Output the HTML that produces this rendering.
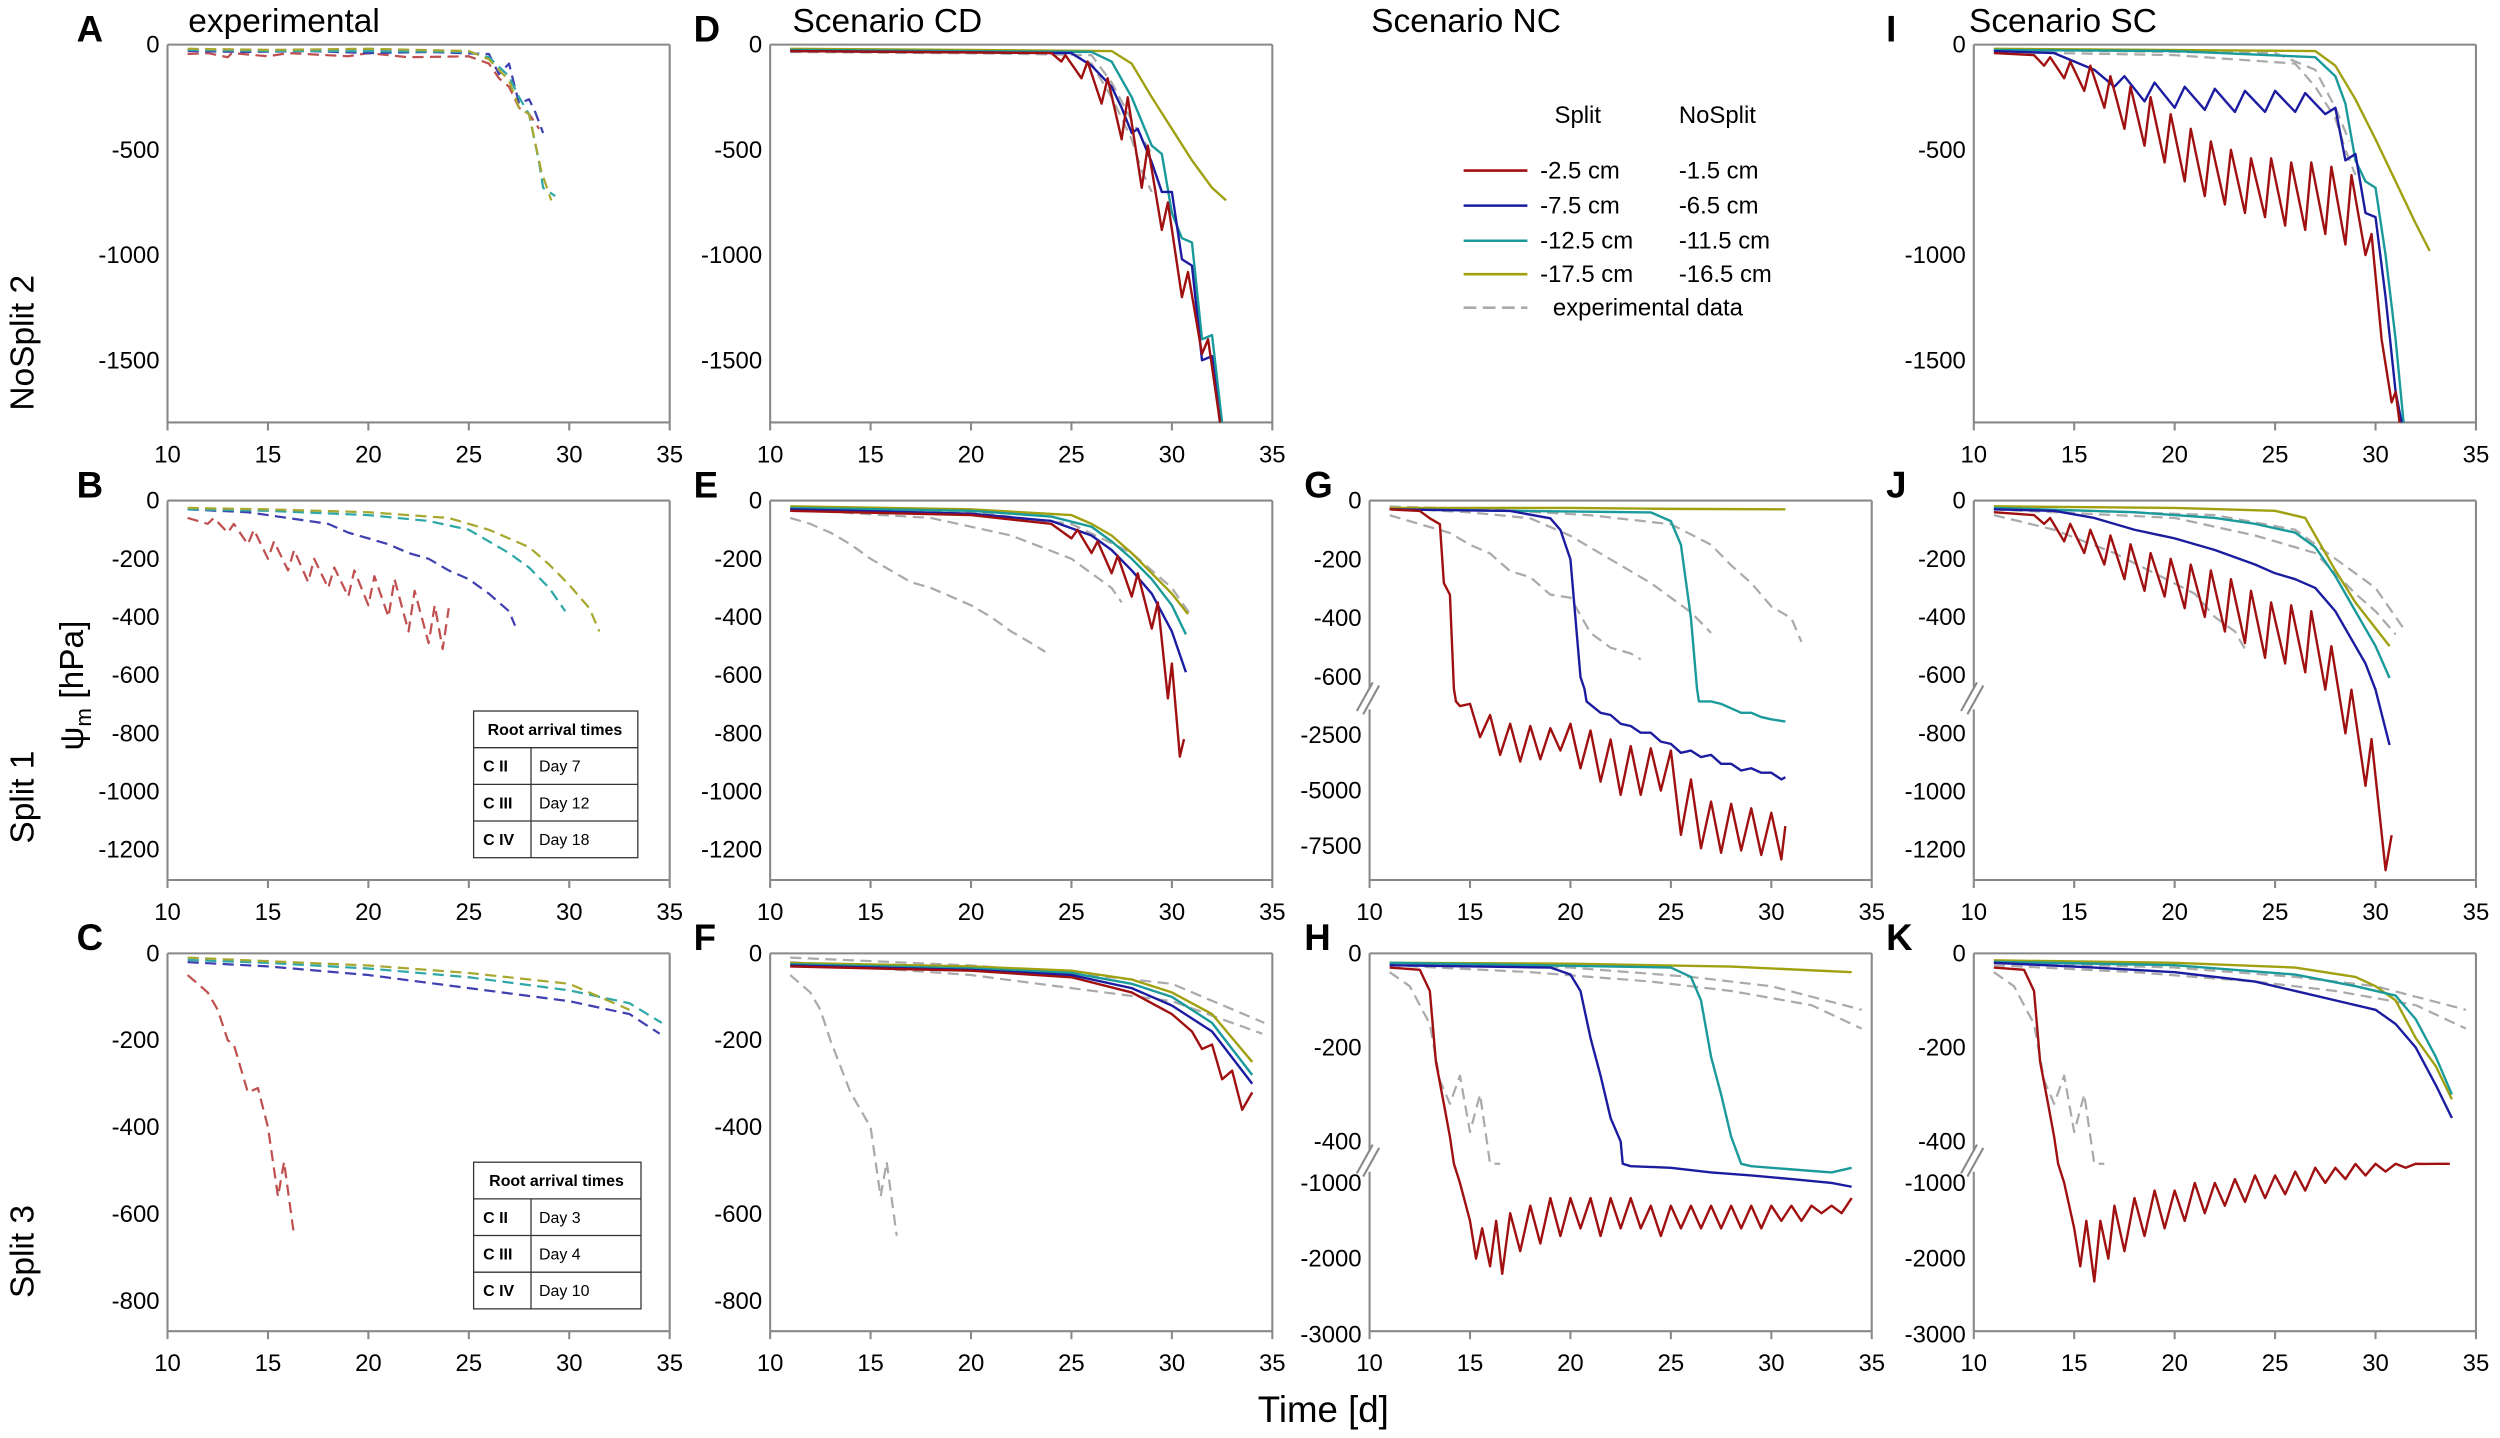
<!DOCTYPE html>
<html><head><meta charset="utf-8"><style>
html,body{margin:0;padding:0;background:#fff}
svg{display:block}
text{font-family:"Liberation Sans",Arial,sans-serif}
</style></head><body>
<svg id="fig" width="2500" height="1438" viewBox="0 0 1568 902" xmlns="http://www.w3.org/2000/svg">
<g id="static">
<text x="48" y="26" font-size="23" font-weight="bold">A</text>
<text x="118" y="20" font-size="21">experimental</text>
<text x="435" y="26" font-size="23" font-weight="bold">D</text>
<text x="497" y="20" font-size="21">Scenario CD</text>
<text x="860" y="20" font-size="21">Scenario NC</text>
<text x="1183" y="26" font-size="23" font-weight="bold">I</text>
<text x="1235" y="20" font-size="21">Scenario SC</text>
<text x="48" y="312" font-size="23" font-weight="bold">B</text>
<text x="435" y="312" font-size="23" font-weight="bold">E</text>
<text x="818" y="312" font-size="23" font-weight="bold">G</text>
<text x="1183" y="312" font-size="23" font-weight="bold">J</text>
<text x="48" y="596" font-size="23" font-weight="bold">C</text>
<text x="435" y="596" font-size="23" font-weight="bold">F</text>
<text x="818" y="596" font-size="23" font-weight="bold">H</text>
<text x="1183" y="596" font-size="23" font-weight="bold">K</text>
<text transform="translate(21,215) rotate(-90)" font-size="21" text-anchor="middle">NoSplit 2</text>
<text transform="translate(21,500) rotate(-90)" font-size="21" text-anchor="middle">Split 1</text>
<text transform="translate(21,785) rotate(-90)" font-size="21" text-anchor="middle">Split 3</text>
<text transform="translate(52,430) rotate(-90)" font-size="21" text-anchor="middle">ψ<tspan font-size="14" dy="5">m</tspan><tspan dy="-5"> [hPa]</tspan></text>
<text x="830" y="892" font-size="23" text-anchor="middle">Time [d]</text>
<g font-size="15">
<text x="975" y="77">Split</text><text x="1053" y="77">NoSplit</text>
<line x1="918" y1="107" x2="958" y2="107" stroke="#a01010" stroke-width="1.6"/><text x="966" y="112">-2.5 cm</text><text x="1053" y="112">-1.5 cm</text>
<line x1="918" y1="129" x2="958" y2="129" stroke="#1c1ca0" stroke-width="1.6"/><text x="966" y="134">-7.5 cm</text><text x="1053" y="134">-6.5 cm</text>
<line x1="918" y1="151" x2="958" y2="151" stroke="#1a9a9a" stroke-width="1.6"/><text x="966" y="156">-12.5 cm</text><text x="1053" y="156">-11.5 cm</text>
<line x1="918" y1="172" x2="958" y2="172" stroke="#a0a010" stroke-width="1.6"/><text x="966" y="177">-17.5 cm</text><text x="1053" y="177">-16.5 cm</text>
<line x1="918" y1="193" x2="958" y2="193" stroke="#aaa" stroke-width="1.6" stroke-dasharray="8,4"/><text x="974" y="198">experimental data</text>
</g>
<g font-size="10" stroke-width="0.8">
<rect x="297" y="446" width="103" height="92" fill="#fff" stroke="#333"/>
<line x1="297" y1="469" x2="400" y2="469" stroke="#333"/><line x1="297" y1="492" x2="400" y2="492" stroke="#333"/><line x1="297" y1="515" x2="400" y2="515" stroke="#333"/>
<line x1="333" y1="469" x2="333" y2="538" stroke="#333"/>
<text x="348" y="461" text-anchor="middle" font-weight="bold">Root arrival times</text>
<text x="303" y="484" font-weight="bold">C II</text><text x="338" y="484">Day 7</text>
<text x="303" y="507" font-weight="bold">C III</text><text x="338" y="507">Day 12</text>
<text x="303" y="530" font-weight="bold">C IV</text><text x="338" y="530">Day 18</text>
</g>
<g font-size="10" stroke-width="0.8">
<rect x="297" y="729" width="105" height="92" fill="#fff" stroke="#333"/>
<line x1="297" y1="752" x2="402" y2="752" stroke="#333"/><line x1="297" y1="775" x2="402" y2="775" stroke="#333"/><line x1="297" y1="798" x2="402" y2="798" stroke="#333"/>
<line x1="333" y1="752" x2="333" y2="821" stroke="#333"/>
<text x="349" y="744" text-anchor="middle" font-weight="bold">Root arrival times</text>
<text x="303" y="767" font-weight="bold">C II</text><text x="338" y="767">Day 3</text>
<text x="303" y="790" font-weight="bold">C III</text><text x="338" y="790">Day 4</text>
<text x="303" y="813" font-weight="bold">C IV</text><text x="338" y="813">Day 10</text>
</g>
</g>
</svg>
<script>
// ---- data (day, hPa) ----
const xTicks = [10,15,20,25,30,35];
const yTicksNS = [0,-500,-1000,-1500];
const yTicksS1 = [0,-200,-400,-600,-800,-1000,-1200];
const yTicksS3 = [0,-200,-400,-600,-800];
const yTicksGUp = [0,-200,-400,-600];
const yTicksGLo = [-2500,-5000,-7500];
const yTicksHUp = [0,-200,-400];
const yTicksHLo = [-1000,-2000,-3000];

const aRed = [[11,-45],[12,-40],[13,-60],[13.2,-40],[15,-55],[16,-40],[19,-55],[20,-40],[22,-60],[25,-55],[26,-90],[26.5,-160],[27,-200],[27.5,-300],[28,-330],[28.5,-400]];
const aBlue = [[11,-30],[14,-35],[17,-30],[20,-40],[23,-35],[26,-45],[26.5,-140],[27,-90],[27.5,-280],[28,-260],[28.3,-320],[28.7,-420]];
const aTeal = [[11,-25],[15,-30],[20,-30],[25,-35],[26,-60],[27,-150],[27.5,-250],[28,-330],[28.5,-560],[28.7,-680],[29.3,-720]];
const aOlive = [[11,-20],[15,-25],[20,-20],[25,-30],[26,-70],[27,-170],[27.5,-300],[28,-330],[28.6,-600],[29.1,-740]];

const dRed = [[11,-30],[24,-40],[24.5,-80],[24.7,-50],[25.5,-160],[25.8,-80],[26.5,-280],[26.8,-160],[27.5,-450],[27.8,-250],[28.5,-680],[28.8,-480],[29.5,-880],[29.8,-750],[30.5,-1200],[30.8,-1080],[31.5,-1470],[31.8,-1400],[32.4,-1800]];
const dBlue = [[11,-30],[25,-40],[26,-100],[27,-200],[27.5,-300],[28,-420],[28.3,-400],[29,-560],[29.5,-700],[30,-700],[30.5,-1020],[31,-1050],[31.5,-1500],[32,-1480],[32.4,-1800]];
const dTeal = [[11,-25],[26,-35],[27,-80],[28,-250],[29,-480],[29.5,-520],[30,-800],[30.5,-920],[31,-940],[31.5,-1400],[32,-1380],[32.5,-1800]];
const dOlive = [[11,-20],[27,-30],[28,-90],[29,-250],[30,-400],[31,-550],[32,-680],[32.7,-740]];
const dGrey1 = [[11,-35],[25,-45],[26,-90],[27,-250],[28,-450],[28.5,-600],[29,-700]];
const dGrey2 = [[11,-25],[26,-50],[27,-180],[28,-360],[29,-520]];

const iRed = [[11,-40],[13,-50],[13.5,-100],[13.8,-60],[14.5,-160],[14.8,-80],[15.5,-220],[15.8,-100],[16.5,-300],[16.8,-150],[17.5,-400],[17.8,-200],[18.5,-480],[18.8,-250],[19.5,-560],[19.8,-330],[20.5,-650],[20.8,-400],[21.5,-720],[21.8,-460],[22.5,-760],[22.8,-500],[23.5,-800],[23.8,-540],[24.5,-820],[24.8,-540],[25.5,-860],[25.8,-560],[26.5,-880],[26.8,-560],[27.5,-900],[27.8,-580],[28.5,-950],[28.8,-620],[29.5,-1000],[29.8,-900],[30.3,-1400],[30.8,-1700],[31,-1650],[31.2,-1800]];
const iBlue = [[11,-30],[14,-40],[15,-80],[16,-120],[17,-200],[17.5,-150],[18.5,-270],[19,-180],[20,-300],[20.5,-200],[21.5,-310],[22,-210],[23,-320],[23.5,-220],[24.5,-320],[25,-220],[26,-320],[26.5,-230],[27.5,-330],[28,-300],[28.5,-550],[29,-520],[29.5,-800],[30,-820],[30.5,-1200],[31,-1650],[31.3,-1800]];
const iTeal = [[11,-25],[20,-30],[27,-60],[28,-150],[28.5,-280],[29,-550],[29.5,-650],[30,-680],[30.5,-1000],[31,-1400],[31.4,-1800]];
const iOlive = [[11,-20],[27,-30],[28,-100],[29,-260],[30,-450],[31,-650],[32,-850],[32.7,-980]];
const iGrey1 = [[11,-35],[20,-50],[26,-90],[27,-200],[28,-350],[28.5,-500],[29,-620]];
const iGrey2 = [[11,-25],[25,-40],[27,-120],[28,-300],[28.7,-460]];

const bRed = [[11,-60],[12,-80],[12.3,-60],[13,-110],[13.3,-80],[14,-150],[14.3,-100],[15,-200],[15.3,-140],[16,-240],[16.3,-170],[17,-280],[17.3,-200],[18,-300],[18.3,-230],[19,-330],[19.3,-240],[20,-360],[20.3,-260],[21,-400],[21.3,-270],[22,-450],[22.3,-310],[23,-490],[23.3,-360],[23.7,-510],[24,-370]];
const bBlue = [[11,-30],[14,-40],[16,-60],[18,-80],[19,-110],[20,-130],[21,-150],[22,-180],[23,-200],[24,-240],[25,-270],[26,-320],[27,-380],[27.3,-430]];
const bTeal = [[11,-30],[15,-35],[20,-50],[23,-70],[25,-100],[26,-140],[27,-180],[28,-230],[29,-300],[29.8,-380]];
const bOlive = [[11,-25],[15,-30],[20,-40],[24,-60],[26,-100],[28,-160],[29,-220],[30,-290],[31,-370],[31.5,-450]];

const eRed = [[11,-35],[20,-50],[24,-80],[25,-130],[25.3,-100],[26,-180],[26.3,-140],[27,-250],[27.3,-190],[28,-330],[28.3,-250],[29,-440],[29.3,-350],[29.8,-680],[30,-560],[30.4,-880],[30.6,-820]];
const eBlue = [[11,-30],[20,-45],[24,-70],[26,-120],[27,-170],[28,-240],[29,-320],[30,-450],[30.7,-590]];
const eTeal = [[11,-25],[20,-35],[24,-55],[26,-90],[27,-140],[28,-200],[29,-270],[30,-360],[30.7,-460]];
const eOlive = [[11,-20],[20,-30],[25,-50],[26,-80],[27,-120],[28,-180],[29,-250],[30,-320],[30.8,-390]];
const eGrey1 = [[11,-60],[12,-80],[13,-110],[14,-150],[15,-200],[16,-240],[17,-280],[18,-300],[19,-330],[20,-360],[21,-400],[22,-450],[23,-490],[23.7,-520]];
const eGrey2 = [[11,-30],[18,-60],[22,-120],[25,-200],[27,-300],[27.5,-350]];
const eGrey3 = [[11,-25],[20,-40],[25,-80],[28,-180],[30,-300],[31,-400]];

const gRed = [[11,-30],[12.5,-35],[13,-60],[13.5,-80],[13.7,-280],[14,-320],[14.2,-640],[14.3,-700],[14.5,-1200],[15,-1100],[15.5,-2600],[16,-1600],[16.5,-3400],[17,-2000],[17.5,-3700],[18,-2100],[18.5,-3600],[19,-2200],[19.5,-3200],[20,-2000],[20.5,-4000],[21,-2300],[21.5,-4600],[22,-2700],[22.5,-5200],[23,-3000],[23.5,-5200],[24,-3100],[24.5,-5000],[25,-3200],[25.5,-7000],[26,-4500],[26.5,-7600],[27,-5500],[27.5,-7800],[28,-5600],[28.5,-7700],[29,-5800],[29.5,-7900],[30,-6000],[30.5,-8100],[30.7,-6600]];
const gBlue = [[11,-30],[17,-35],[19,-60],[19.5,-100],[20,-200],[20.5,-600],[20.7,-640],[20.8,-700],[21.5,-1500],[22,-1600],[22.5,-2000],[23,-2100],[23.5,-2400],[24,-2400],[24.5,-2800],[25,-2900],[25.5,-3300],[26,-3200],[26.5,-3500],[27,-3400],[27.5,-3800],[28,-3800],[28.5,-4100],[29,-4000],[29.5,-4200],[30,-4200],[30.5,-4500],[30.7,-4400]];
const gTeal = [[11,-30],[24,-40],[25,-70],[25.5,-150],[26,-400],[26.3,-640],[26.4,-700],[27,-900],[27.5,-1100],[28,-1300],[28.5,-1500],[29,-1500],[29.5,-1700],[30,-1800],[30.7,-1900]];
const gOlive = [[11,-25],[20,-25],[25,-28],[30.7,-30]];
const gGrey1 = [[11,-50],[12,-70],[13,-90],[14,-110],[15,-150],[16,-180],[17,-240],[18,-260],[19,-320],[20,-330],[21,-450],[22,-500],[23,-520],[23.5,-540]];
const gGrey2 = [[11,-25],[15,-40],[18,-60],[20,-120],[22,-200],[24,-280],[25,-330],[26,-380],[27,-450]];
const gGrey3 = [[11,-20],[16,-30],[21,-50],[25,-80],[27,-150],[28,-220],[29,-280],[30,-360],[31,-400],[31.5,-480]];

const jRed = [[11,-40],[13,-50],[13.5,-80],[13.8,-60],[14.5,-140],[14.8,-80],[15.5,-180],[15.8,-100],[16.5,-220],[16.8,-120],[17.5,-270],[17.8,-150],[18.5,-310],[18.8,-180],[19.5,-330],[19.8,-200],[20.5,-370],[20.8,-220],[21.5,-400],[21.8,-240],[22.5,-450],[22.8,-270],[23.5,-490],[23.8,-310],[24.5,-540],[24.8,-350],[25.5,-560],[25.8,-360],[26.5,-590],[26.8,-380],[27.5,-650],[27.8,-500],[28.5,-800],[28.8,-650],[29.5,-980],[29.8,-820],[30.5,-1270],[30.8,-1150]];
const jBlue = [[11,-30],[14,-35],[16,-60],[18,-100],[20,-130],[22,-170],[24,-220],[25,-250],[26,-270],[27,-300],[28,-380],[29,-500],[29.5,-560],[30,-650],[30.7,-840]];
const jTeal = [[11,-25],[18,-40],[22,-60],[24,-80],[26,-110],[27,-160],[28,-260],[29,-380],[30,-500],[30.7,-610]];
const jOlive = [[11,-20],[20,-25],[25,-35],[26.5,-60],[27,-120],[28,-240],[29,-350],[30.7,-500]];
const jGrey1 = [[11,-50],[14,-100],[17,-180],[19,-250],[21,-320],[22,-400],[23,-450],[23.5,-510]];
const jGrey2 = [[11,-30],[20,-60],[24,-120],[27,-180],[28,-250],[29,-320],[30,-380],[31,-460]];
const jGrey3 = [[11,-25],[22,-50],[26,-100],[28,-200],[30,-300],[31.5,-450]];

const cRed = [[11,-50],[12,-90],[12.5,-130],[13,-200],[13.3,-210],[14,-320],[14.5,-310],[15,-400],[15.5,-560],[15.8,-480],[16.3,-650]];
const cBlue = [[11,-20],[15,-30],[20,-50],[25,-80],[30,-110],[33,-140],[34.5,-185]];
const cTeal = [[11,-15],[15,-22],[20,-35],[25,-55],[30,-85],[33,-115],[34.6,-160]];
const cOlive = [[11,-10],[15,-18],[20,-28],[25,-45],[30,-70],[33,-130]];

const fRed = [[11,-30],[20,-40],[25,-55],[28,-90],[30,-140],[31,-180],[31.5,-220],[32,-210],[32.5,-290],[33,-270],[33.5,-360],[34,-320]];
const fBlue = [[11,-28],[20,-38],[25,-50],[28,-80],[30,-120],[32,-180],[34,-300]];
const fTeal = [[11,-25],[20,-35],[25,-45],[28,-70],[30,-100],[32,-160],[34,-280]];
const fOlive = [[11,-22],[20,-30],[25,-40],[28,-60],[30,-90],[32,-140],[34,-250]];
const fGrey1 = [[11,-50],[12,-90],[12.5,-130],[13,-200],[14,-320],[15,-400],[15.5,-560],[15.8,-480],[16.3,-650]];
const fGrey2 = [[11,-20],[20,-50],[25,-80],[30,-110],[34.5,-185]];
const fGrey3 = [[11,-10],[20,-28],[25,-45],[30,-70],[34.6,-160]];

const hRed = [[11,-30],[12.5,-35],[13,-80],[13.3,-230],[13.7,-320],[14,-390],[14.2,-700],[14.5,-1000],[15,-1500],[15.3,-2000],[15.6,-1600],[16,-2100],[16.3,-1500],[16.6,-2200],[17,-1400],[17.5,-1900],[18,-1300],[18.5,-1800],[19,-1200],[19.5,-1700],[20,-1200],[20.5,-1600],[21,-1200],[21.5,-1700],[22,-1200],[22.5,-1600],[23,-1200],[23.5,-1600],[24,-1300],[24.5,-1700],[25,-1300],[25.5,-1600],[26,-1300],[26.5,-1600],[27,-1300],[27.5,-1600],[28,-1300],[28.5,-1600],[29,-1300],[29.5,-1600],[30,-1300],[30.5,-1500],[31,-1300],[31.5,-1500],[32,-1300],[32.5,-1400],[33,-1300],[33.5,-1400],[34,-1200]];
const hBlue = [[11,-25],[19,-30],[20,-45],[20.5,-80],[21,-180],[21.5,-260],[22,-350],[22.5,-400],[22.6,-700],[23,-780],[25,-800],[27,-860],[29,-900],[31,-950],[33,-1000],[34,-1050]];
const hTeal = [[11,-20],[25,-30],[26,-50],[26.5,-100],[27,-220],[27.5,-300],[28,-390],[28.5,-700],[29,-780],[31,-820],[33,-860],[34,-800]];
const hOlive = [[11,-20],[20,-22],[28,-28],[34,-40]];
const hGrey1 = [[11,-40],[12,-70],[13,-150],[13.5,-270],[14,-320],[14.5,-260],[15,-380],[15.5,-300],[16,-440],[16.5,-520]];
const hGrey2 = [[11,-25],[18,-40],[24,-60],[28,-80],[32,-110],[34.5,-160]];
const hGrey3 = [[11,-20],[20,-30],[26,-50],[30,-70],[34.5,-120]];

const kRed = [[11,-30],[12.5,-35],[13,-80],[13.3,-230],[13.7,-320],[14,-390],[14.2,-700],[14.5,-1000],[15,-1600],[15.3,-2100],[15.6,-1500],[16,-2300],[16.3,-1500],[16.7,-2000],[17,-1300],[17.5,-1900],[18,-1200],[18.5,-1700],[19,-1100],[19.5,-1600],[20,-1100],[20.5,-1500],[21,-1000],[21.5,-1400],[22,-1000],[22.5,-1300],[23,-950],[23.5,-1250],[24,-900],[24.5,-1200],[25,-900],[25.5,-1150],[26,-850],[26.5,-1100],[27,-800],[27.5,-1000],[28,-800],[28.5,-950],[29,-750],[29.5,-900],[30,-700],[30.5,-850],[31,-700],[31.5,-800],[32,-700],[32.5,-750],[33,-650],[33.7,-700]];
const kBlue = [[11,-20],[16,-30],[20,-40],[24,-60],[26,-80],[28,-100],[30,-120],[31,-150],[32,-200],[33,-280],[33.8,-350]];
const kTeal = [[11,-18],[20,-25],[26,-45],[29,-70],[31,-90],[32,-140],[33,-220],[33.8,-300]];
const kOlive = [[11,-15],[20,-20],[26,-30],[29,-50],[30,-70],[31,-100],[32,-180],[33,-240],[33.8,-310]];
const kGrey1 = [[11,-40],[12,-70],[13,-150],[13.5,-270],[14,-320],[14.5,-260],[15,-380],[15.5,-300],[16,-440],[16.5,-520]];
const kGrey2 = [[11,-25],[18,-40],[24,-60],[28,-80],[32,-110],[34.5,-160]];
const kGrey3 = [[11,-20],[20,-30],[26,-50],[30,-70],[34.5,-120]];

// ---- rendering ----
const NS='http://www.w3.org/2000/svg';
const svg=document.getElementById('fig');
const C={red:'#a01010',blue:'#1c1ca0',teal:'#1a9a9a',olive:'#a0a010',grey:'#aaa',eRed:'#c05050',eBlue:'#4040b0',eTeal:'#30a8a8',eOlive:'#a8a830'};
const colX=[105,483,859,1238], W=315;
const rowY=[[28,265],[314,552],[598,835]];
function mk(tag,attrs,parent){const e=document.createElementNS(NS,tag);for(const k in attrs)e.setAttribute(k,attrs[k]);(parent||svg).appendChild(e);return e;}
function linearY(v0,y0,v1,y1){return v=>y0+(v-v0)*(y1-y0)/(v1-v0);}
function makePanel(name,col,row,yfn,ticksUp,ticksLo,brk,series){
  const x0=colX[col],x1=x0+W,top=rowY[row][0],bot=rowY[row][1];
  const xs=d=>x0+(d-10)*W/25;
  const g=mk('g',{});
  
  
  const ax=mk('g',{stroke:'#888','stroke-width':1.3,fill:'none'},g);
  mk('line',{x1:x0,y1:top,x2:x1,y2:top},ax);
  mk('line',{x1:x0,y1:bot,x2:x1,y2:bot},ax);
  mk('line',{x1:x1,y1:top,x2:x1,y2:bot},ax);
  if(brk){mk('line',{x1:x0,y1:top,x2:x0,y2:brk[0]},ax);mk('line',{x1:x0,y1:brk[1],x2:x0,y2:bot},ax);
    mk('line',{x1:x0-8,y1:brk[0]+14,x2:x0+2,y2:brk[0]-4},ax);mk('line',{x1:x0-4,y1:brk[0]+16,x2:x0+6,y2:brk[0]-2},ax);}
  else mk('line',{x1:x0,y1:top,x2:x0,y2:bot},ax);
  xTicks.forEach(t=>{mk('line',{x1:xs(t),y1:bot,x2:xs(t),y2:bot+5},ax);
    const tx=mk('text',{x:xs(t),y:bot+25,'font-size':15,'text-anchor':'middle',fill:'#000'},g);tx.textContent=t;});
  ticksUp.concat(ticksLo).forEach(t=>{const y=yfn(t);
    const tx=mk('text',{x:x0-5,y:y+5,'font-size':15,'text-anchor':'end',fill:'#000'},g);tx.textContent=t;});
  series.forEach(s=>{
    const p=mk('polyline',{fill:'none',stroke:s[1],'stroke-width':s[2]?1.4:1.5,'stroke-linejoin':'round','points':s[0].map(q=>xs(q[0]).toFixed(1)+','+Math.max(top,Math.min(bot,yfn(q[1]))).toFixed(1)).join(' ')},g);
    if(s[2])p.setAttribute('stroke-dasharray','7,4');
    
    
  });
}
const yNS=linearY(0,28,-1500,226), yS1=linearY(0,314,-1200,533), yS3=linearY(0,598,-800,816);
const gU=linearY(0,314,-600,424.7), gL=linearY(-2500,461,-7500,530.7);
const yG=v=>v>=-650?gU(v):Math.max(gL(v),440);
const hU=linearY(0,598,-400,716), hL=linearY(-1000,742,-3000,837);
const yH=v=>v>=-420?hU(v):Math.max(hL(v),730);

makePanel('panel-a',0,0,yNS,yTicksNS,[],null,[[aRed,C.eRed,1],[aBlue,C.eBlue,1],[aTeal,C.eTeal,1],[aOlive,C.eOlive,1]]);
makePanel('panel-d',1,0,yNS,yTicksNS,[],null,[[dGrey1,C.grey,1],[dGrey2,C.grey,1],[dOlive,C.olive],[dTeal,C.teal],[dBlue,C.blue],[dRed,C.red]]);
makePanel('panel-i',3,0,yNS,yTicksNS,[],null,[[iGrey1,C.grey,1],[iGrey2,C.grey,1],[iOlive,C.olive],[iTeal,C.teal],[iBlue,C.blue],[iRed,C.red]]);
makePanel('panel-b',0,1,yS1,yTicksS1,[],null,[[bRed,C.eRed,1],[bBlue,C.eBlue,1],[bTeal,C.eTeal,1],[bOlive,C.eOlive,1]]);
makePanel('panel-e',1,1,yS1,yTicksS1,[],null,[[eGrey1,C.grey,1],[eGrey2,C.grey,1],[eGrey3,C.grey,1],[eOlive,C.olive],[eTeal,C.teal],[eBlue,C.blue],[eRed,C.red]]);
makePanel('panel-g',2,1,yG,yTicksGUp,yTicksGLo,[432,445],[[gGrey1,C.grey,1],[gGrey2,C.grey,1],[gGrey3,C.grey,1],[gOlive,C.olive],[gTeal,C.teal],[gBlue,C.blue],[gRed,C.red]]);
makePanel('panel-j',3,1,yS1,yTicksS1,[],[432,445],[[jGrey1,C.grey,1],[jGrey2,C.grey,1],[jGrey3,C.grey,1],[jOlive,C.olive],[jTeal,C.teal],[jBlue,C.blue],[jRed,C.red]]);
makePanel('panel-c',0,2,yS3,yTicksS3,[],null,[[cRed,C.eRed,1],[cBlue,C.eBlue,1],[cTeal,C.eTeal,1],[cOlive,C.eOlive,1]]);
makePanel('panel-f',1,2,yS3,yTicksS3,[],null,[[fGrey1,C.grey,1],[fGrey2,C.grey,1],[fGrey3,C.grey,1],[fOlive,C.olive],[fTeal,C.teal],[fBlue,C.blue],[fRed,C.red]]);
makePanel('panel-h',2,2,yH,yTicksHUp,yTicksHLo,[722,735],[[hGrey1,C.grey,1],[hGrey2,C.grey,1],[hGrey3,C.grey,1],[hOlive,C.olive],[hTeal,C.teal],[hBlue,C.blue],[hRed,C.red]]);
makePanel('panel-k',3,2,yH,yTicksHUp,yTicksHLo,[722,735],[[kGrey1,C.grey,1],[kGrey2,C.grey,1],[kGrey3,C.grey,1],[kOlive,C.olive],[kTeal,C.teal],[kBlue,C.blue],[kRed,C.red]]);
svg.appendChild(document.getElementById('static'));
</script>
</body></html>
